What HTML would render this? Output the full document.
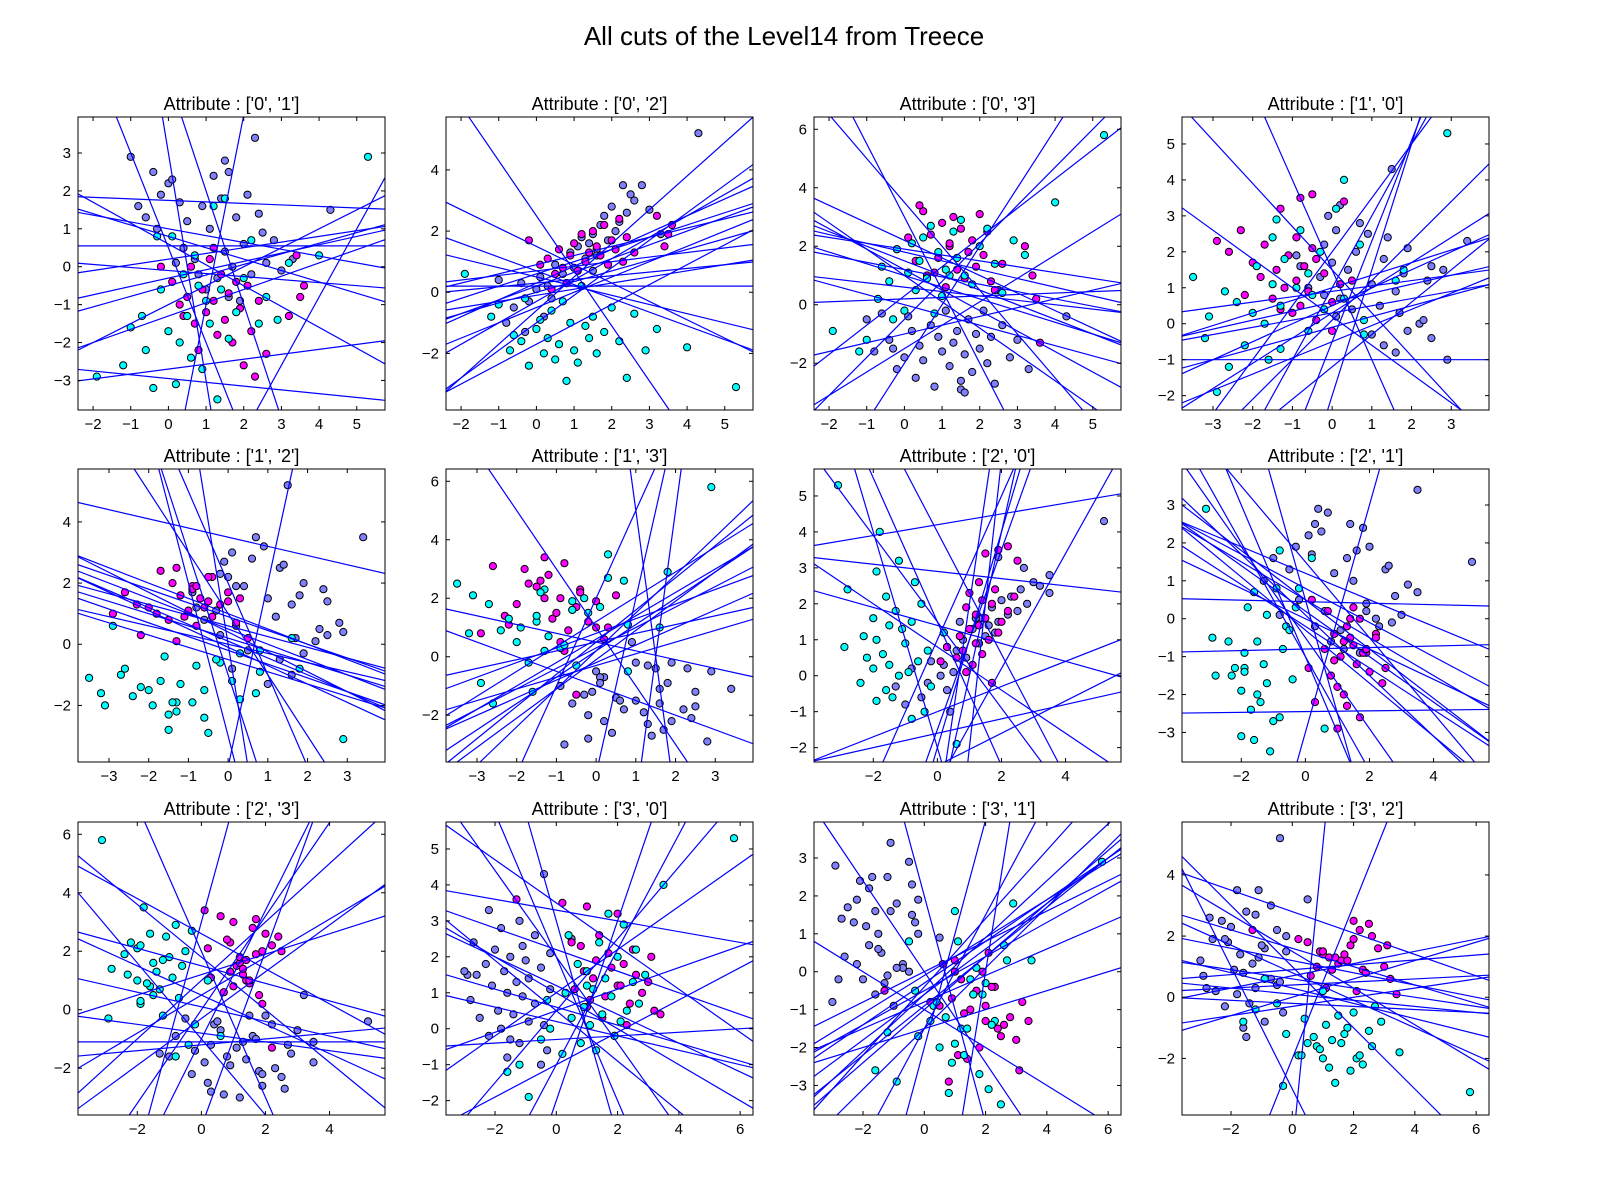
<!DOCTYPE html>
<html><head><meta charset="utf-8">
<style>
html,body{margin:0;padding:0;background:#fff;overflow:hidden;width:1600px;height:1200px;}
svg{display:block;}
svg text{font-family:"Liberation Sans",sans-serif;}
</style></head>
<body>
<svg id="fig" width="1600" height="1200" viewBox="0 0 1600 1200" xmlns="http://www.w3.org/2000/svg">
<rect width="1600" height="1200" fill="#fff"/>
<text x="784" y="45" text-anchor="middle" font-size="26">All cuts of the Level14 from Treece</text>
</svg>
<script>
// dataset: class P (purple), M (magenta), C (cyan); each row [a0,a1,a2,a3]
const purplePts = [[-1,2.9,0.4,-0.5],[-0.8,1.6,-1,-1.6],[-0.6,1.3,-0.5,-0.3],[-0.4,2.5,0.3,-1.2],[-0.2,1.9,-0.3,-2.2],[0,2.2,0.1,-1.8],[0.1,2.3,0.5,-0.4],[0.3,1.7,0.2,-2.5],[0.4,0.5,-0.2,-1.4],[0.5,1.2,0.9,-1.9],[0.7,0.2,0.6,-0.7],[0.8,-0.2,0.3,-2.8],[0.9,1.6,1.3,-1.1],[1,-0.6,0.8,-1.6],[1.1,1,1.5,-0.2],[1.2,2.4,1.8,-2.1],[1.3,-0.3,1.1,-1.3],[1.4,1.8,1.6,-0.9],[1.5,0.4,1.9,-2.6],[1.6,2.5,1.4,-1.7],[1.7,0,2.2,-0.5],[1.8,1.3,2.5,-2.3],[1.9,-0.9,1.7,-1],[2,0.6,2.8,-1.5],[2.1,1.9,2,-0.2],[2.2,-0.2,2.3,-2],[2.3,3.4,3.5,-1.1],[2.4,1.4,2.6,-2.7],[2.6,0.1,3,-0.7],[2.8,0.7,3.5,-1.8],[3,-0.1,2.7,-1.2],[3.3,0.2,1.9,-2.2],[4.3,1.5,5.2,-0.4],[1.5,2.8,0.7,-2.9],[0.2,0.1,-0.8,-0.9],[-0.3,1,-1.3,-1.5],[1.6,-0.8,1.2,-3],[2.5,0.9,3.2,0.5]];
const magentaPts = [[-0.2,0,1.7,1.9],[0.1,-0.4,0.9,2.3],[0.3,-1,1.1,1.5],[0.5,-0.8,0.6,3.2],[0.6,0,1.4,1],[0.7,-1.5,0.8,2.4],[0.9,-0.6,1.2,1.6],[1,-1.2,1.6,2.8],[1.1,0.2,0.7,0.6],[1.2,-0.9,1.9,2],[1.3,-1.8,1,3],[1.4,-0.2,1.3,1.2],[1.5,-1.4,2,2.6],[1.6,-0.7,1.5,0.9],[1.7,-2,1.2,1.8],[1.8,-0.4,2.2,2.2],[1.9,-1.1,0.9,1.3],[2,-2.6,1.7,3.1],[2.1,-0.5,1.4,1.7],[2.2,-1.7,2.4,2.5],[2.4,-0.9,1.8,0.5],[2.6,-2.3,1.3,1.4],[3.2,-1.3,2.5,2],[3.5,-0.8,1.9,0.2],[3.6,-0.5,2.2,-1.3],[3.4,0.3,1.5,1],[0.8,-2.2,0.3,1.1],[1.2,0.5,0.2,2.1],[2.3,-2.9,1,0.8],[0.4,-1.3,0.1,3.4]];
const cyanPts = [[-1.9,-2.9,0.6,-0.9],[-1.2,-2.6,-0.8,-1.6],[-1,-1.6,-0.4,-1.2],[-0.7,-1.3,-1.9,0.2],[-0.6,-2.2,-1.4,1.3],[-0.4,-3.2,-1.6,0.8],[-0.2,-0.6,-2.4,1.9],[0,-1.7,-1.2,-0.2],[0.1,0.8,-0.9,1.1],[0.2,-3.1,-2,2.1],[0.3,-2,-1.5,0.5],[0.4,-0.2,-0.6,1.5],[0.5,-1.3,-2.2,2.3],[0.6,-2.4,-1.7,0.9],[0.7,0.3,-0.3,2.7],[0.9,-2.7,-1,1.8],[1,-0.9,-1.9,0.3],[1.1,-1.5,-2.3,1.2],[1.3,-3.5,-1.1,2.5],[1.4,-0.6,-1.5,1.6],[1.5,1.8,-0.8,2.9],[1.6,-1.9,-2,1],[1.8,-1.2,-1.3,0.7],[2,-0.3,-0.5,2],[2.2,0.7,-1.6,2.6],[2.4,-1.5,-2.8,1.4],[2.6,-0.8,-0.7,0.4],[2.9,-1.4,-1.9,2.2],[3.2,0.1,-1.2,1.7],[4,0.3,-1.8,3.5],[5.3,2.9,-3.1,5.8],[-0.3,0.8,-0.2,-0.5],[1.2,1.6,0.2,1],[0.8,-0.5,-2.9,-0.3]];
const attrRanges = [[-2.4,5.75],[-3.78,3.95],[-3.85,5.73],[-3.6,6.42]];
const attrTicks = [[-2,-1,0,1,2,3,4,5],[-3,-2,-1,0,1,2,3],[-2,0,2,4],[-2,0,2,4,6]];
const pairs = [[0,1],[0,2],[0,3],[1,0],[1,2],[1,3],[2,0],[2,1],[2,3],[3,0],[3,1],[3,2]];
// cut lines per subplot: [slope, intercept] in data coords
const cuts = [
[[-0.04,1.75],[0,0.55],[-0.1,-2.95],[0.13,-2.7],[0.5,-1.0],[0.35,-1.3],[0.28,-0.5],[-0.3,0.8],[-0.55,0.6],[0.15,0.2],[-6,3],[5,-6],[-3,5],[1.8,-8],[-0.18,1.0],[-2.5,0.5],[0.22,-0.3],[-0.08,-0.1]],
[[0.7,-0.3],[0.55,0.3],[0.4,0.6],[0.45,0.2],[0.3,0.9],[0.9,-1.0],[1.1,-0.6],[0.35,0],[0.12,0.3],[0,0.2],[-0.3,0.5],[-0.45,0.7],[-0.6,1.5],[-1.8,2.5],[0.2,-0.1],[0.65,-1.7],[0.15,0.7],[0.5,-0.5]],
[[-0.3,1.8],[-0.5,1.5],[-0.7,1.2],[-0.9,1.0],[-0.4,1.0],[-0.25,1.2],[-0.15,0.6],[-0.2,1.9],[0.3,-1],[0.8,-1.5],[1.3,-0.5],[2,-2],[-2.5,3],[-1.5,3.5],[0.05,0.2],[-0.6,2.2],[-0.35,0],[1.0,0.3]],
[[0.5,0.5],[0.35,1],[0.7,0.3],[1.1,0.1],[0.2,0.3],[0.15,0.9],[0,-1],[0.3,-0.1],[2,1],[2.8,-0.5],[1.5,2],[-1.2,1.5],[3.5,-2],[0.45,-0.5],[-0.8,0.2],[0.25,0.6],[0.9,-1.2],[-2.5,1.5]],
[[-0.4,0.2],[-0.45,-0.2],[-0.5,0.5],[-0.55,0.1],[-0.35,0.6],[-0.6,-0.1],[-0.3,0],[-0.5,1.0],[-0.65,0.4],[-0.4,-0.5],[-0.3,3.5],[-4,-1],[-5,-3],[-8,0],[-3,2],[6,-4],[-2,1],[-0.45,0.9]],
[[0.8,0.6],[0.9,0.2],[1,-0.1],[0.7,0.3],[1.1,0.5],[0.6,-0.2],[0.5,0.8],[0.4,-0.3],[1.3,0.2],[0.3,0.5],[-0.3,0.5],[3,2],[-2,1],[6,-4],[10,-15],[-10,15],[0.85,1.2],[-0.5,-1]],
[[0.15,4.2],[-0.1,2.9],[0.35,-1],[0.2,-1.6],[-0.6,0.8],[-1.2,1.5],[-2,1.5],[2,1],[3,-2],[4,-4],[1.6,-3],[-3,-2],[8,-10],[-0.25,1.4],[0.45,-2.5],[-1.7,4],[2.5,-1.5],[6,-4]],
[[-0.5,0.5],[-0.55,-0.2],[-0.6,0.2],[-0.45,0.8],[-0.7,-0.3],[-0.4,0],[-0.8,0.1],[-1.2,-0.5],[-1.5,-1],[-2,-1],[-0.02,0.45],[0.02,-0.8],[0.01,-2.45],[-3,0.5],[3,-3],[-0.35,1.2],[-0.65,0.5],[-1,1.5]],
[[1,1],[1.6,0],[2.2,-1],[0.8,-0.3],[-0.3,1.5],[-0.5,0.5],[-0.15,-0.8],[0.1,-1.2],[-0.9,1.8],[-2.5,2],[3,-4],[-1.3,-1],[0.35,1.2],[0.65,0.5],[-0.25,0.1],[4,3],[0,-1.1],[-0.6,2.6]],
[[-0.4,1.2],[-0.3,2.2],[-0.5,1],[-0.7,0.5],[-0.2,0.2],[-0.15,3.3],[0.3,0.5],[0.6,1],[-1.2,2],[-2,2],[2.5,-2],[1.6,-1],[-3,3],[0.05,-0.3],[-0.25,0.6],[0.45,-1],[-0.6,3.5],[1,0.5]],
[[0.55,-0.3],[0.6,-0.6],[0.65,-0.9],[0.5,-0.1],[0.45,-0.5],[0.7,-1.0],[0.75,-0.6],[0.4,0],[0.8,-1.5],[0.35,-0.8],[0.9,-0.4],[1.5,-1.5],[3,-2],[-3,2],[-1.2,0],[5,-10],[0.25,-1.5],[-0.5,-1]],
[[-0.15,0.6],[-0.2,1.2],[-0.25,0.3],[-0.3,1.6],[-0.1,0.1],[0.05,0.4],[0.3,0],[0.2,0.7],[-0.45,0.8],[-0.6,1.5],[0.15,-0.3],[-0.35,2.8],[2.5,-2],[-2,-3],[-1,1],[0.08,0.9],[-0.05,-0.2],[10,-5]]
];
const NS="http://www.w3.org/2000/svg";
const svg=document.getElementById('fig');
function mk(tag,attrs,parent){const e=document.createElementNS(NS,tag);for(const k in attrs)e.setAttribute(k,attrs[k]);(parent||svg).appendChild(e);return e;}
const colLeft=[78,446,814,1182], rowTop=[117,469,822], W=307, H=293;
const classes=[[purplePts,'#8080ff','purple'],[magentaPts,'#ff00ff','magenta'],[cyanPts,'#00ffff','cyan']];
pairs.forEach((p,i)=>{
  const L=colLeft[i%4], T=rowTop[Math.floor(i/4)];
  const [xa,ya]=p, xr=attrRanges[xa], yr=attrRanges[ya];
  const sx=v=>L+(v-xr[0])/(xr[1]-xr[0])*W;
  const sy=v=>T+H-(v-yr[0])/(yr[1]-yr[0])*H;
  const g=mk('g',{});
  
  
  const cp=mk('clipPath',{id:'cp'+i},g); mk('rect',{x:L,y:T,width:W,height:H},cp);
  const pg=mk('g',{'clip-path':'url(#cp'+i+')'},g);
  classes.forEach(([pts,col,nm])=>{
    pts.forEach(r=>{
      const c=mk('circle',{cx:sx(r[xa]).toFixed(1),cy:sy(r[ya]).toFixed(1),r:3.6,fill:col,stroke:'#000','stroke-width':1},pg);
      
      
    });
  });
  cuts[i].forEach(([m,b])=>{
    let lo=xr[0], hi=xr[1];
    if(m!==0){
      const a=(yr[0]-b)/m, c=(yr[1]-b)/m;
      lo=Math.max(lo,Math.min(a,c)); hi=Math.min(hi,Math.max(a,c));
    } else if(b<yr[0]||b>yr[1]) return;
    if(hi<=lo) return;
    const l=mk('line',{x1:sx(lo).toFixed(2),y1:sy(m*lo+b).toFixed(2),x2:sx(hi).toFixed(2),y2:sy(m*hi+b).toFixed(2),stroke:'#0000ff','stroke-width':1.2},pg);
    
    
  });
  const fr=mk('rect',{x:L,y:T,width:W,height:H,fill:'none',stroke:'#000','stroke-width':1},g);
  
  
  attrTicks[xa].forEach(t=>{
    const x=sx(t);
    mk('line',{x1:x,y1:T+H,x2:x,y2:T+H-4,stroke:'#000'},g);
    mk('line',{x1:x,y1:T,x2:x,y2:T+4,stroke:'#000'},g);
    const tx=mk('text',{x:x,y:T+H+19,'text-anchor':'middle','font-size':15},g);
    tx.textContent=(t<0?'\u2212'+(-t):t);
    
    
  });
  attrTicks[ya].forEach(t=>{
    const y=sy(t);
    mk('line',{x1:L,y1:y,x2:L+4,y2:y,stroke:'#000'},g);
    mk('line',{x1:L+W,y1:y,x2:L+W-4,y2:y,stroke:'#000'},g);
    const tx=mk('text',{x:L-7,y:y+5,'text-anchor':'end','font-size':15},g);
    tx.textContent=(t<0?'\u2212'+(-t):t);
    
    
  });
  const tt=mk('text',{x:L+W/2,y:T-7,'text-anchor':'middle','font-size':18},g);
  tt.textContent="Attribute : ['"+xa+"', '"+ya+"']";
  
  
});
</script>
</body></html>
